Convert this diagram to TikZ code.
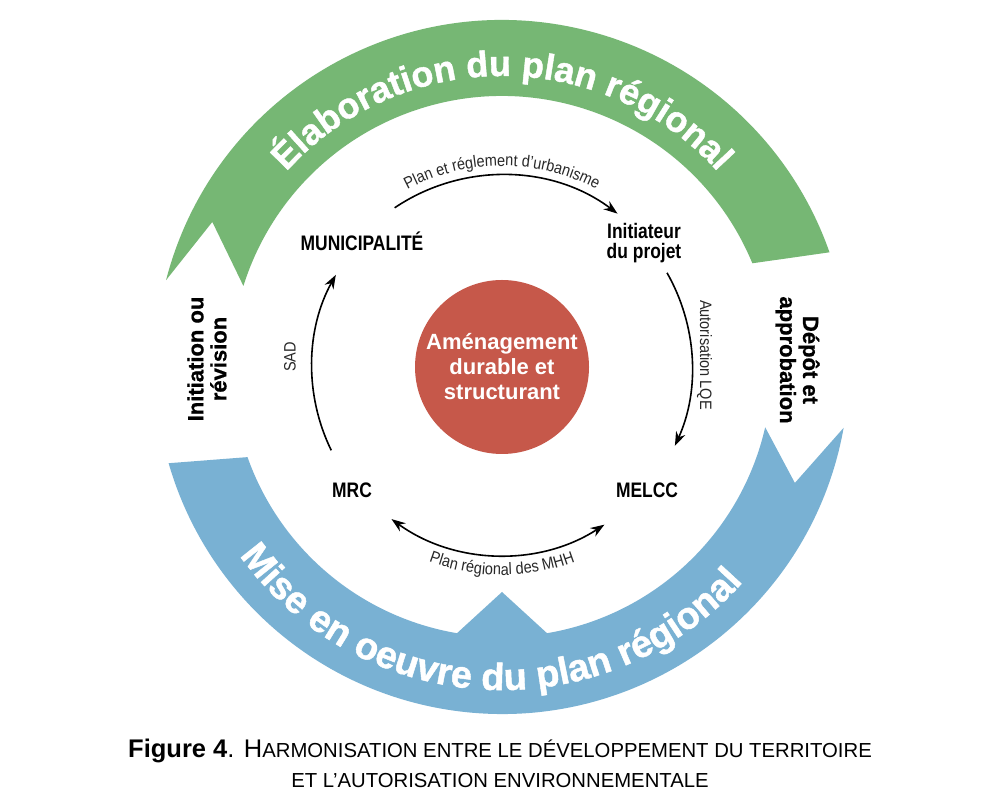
\documentclass[tikz,border=0pt]{standalone}
\usepackage{fontspec}
\setmainfont{Liberation Sans}
\newfontfamily\condfam[FakeStretch=0.83]{Liberation Sans}
\newfontfamily\labfam[FakeStretch=0.88]{Liberation Sans}
\newfontfamily\heavyfam[FakeBold=1.2]{Liberation Sans Bold}
\newfontfamily\sidefam[FakeBold=0.8]{Liberation Sans Bold}
\usetikzlibrary{arrows.meta,decorations.text}
\definecolor{bandgreen}{RGB}{118,183,116}
\definecolor{bandblue}{RGB}{121,177,211}
\definecolor{corered}{RGB}{198,88,74}
\definecolor{labgray}{RGB}{40,40,40}
\newcommand\bandfonttop{\heavyfam\fontsize{36}{40}\selectfont\color{white}}
\newcommand\bandfontbot{\heavyfam\fontsize{38}{40}\selectfont\color{white}}
\newcommand\labfont{\labfam\fontsize{16.5}{18}\selectfont\color{labgray}}
\begin{document}
\begin{tikzpicture}[x=1pt,y=1pt,
  actor/.style={font=\condfam\bfseries\fontsize{21}{20}\selectfont, align=center, inner sep=0pt},
  phase/.style={font=\sidefam\fontsize{22}{23}\selectfont, align=center, inner sep=0pt},
  conn/.style={line width=1.6pt, >={Stealth[length=14pt,width=10pt]}},
  lab/.style={font=\labfont, inner sep=0pt},
  captext/.style={inner sep=0pt, anchor=base}
]
\useasboundingbox (0,0) rectangle (992,808);
\fill[white] (0,0) rectangle (992,808);
\coordinate (C) at (502,441);
\begin{scope}[shift={(C)}]
  % green band
  \fill[bandgreen] (165.5:347) arc[start angle=165.5, end angle=19.3, radius=347]
     -- (22.5:271) arc[start angle=22.5, end angle=162.6, radius=271]
     -- (153.4:324) -- cycle;
  % blue band
  \fill[bandblue] (-10.1:347) arc[start angle=-10.1, end angle=-163.9, radius=347]
     -- (-160.5:270) arc[start angle=-160.5, end angle=-99.6, radius=270]
     -- (-90:225) -- (-80.4:270) arc[start angle=-80.4, end angle=-12.9, radius=270]
     -- (-21.6:315) -- cycle;
  % band texts
  \path[decorate, decoration={text along path, text align=center,
      text={|\bandfonttop|Élaboration du plan régional}}]
      (180:291) arc[start angle=180, end angle=0, radius=291];
  \path[decorate, decoration={text along path, text align=center,
      text={|\bandfontbot|Mise en oeuvre du plan régional}}]
      (194:323) arc[start angle=194, end angle=340, radius=323];
  % connector end points
  \coordinate (ts) at (124:192);
  \coordinate (te) at (53:192);
  \coordinate (rs) at (29.7:190);
  \coordinate (re) at (-24.5:190);
  \coordinate (bs) at (234:188);
  \coordinate (be) at (303:188);
  \coordinate (ls) at (206:190);
  \coordinate (le) at (151:190);
  % curved labels
  \path[decorate, decoration={text along path, text align=center,
      text={|\labfont|Plan et réglement d’urbanisme}}]
      (180:201) arc[start angle=180, end angle=0, radius=201];
  \path[decorate, decoration={text along path, text align=center,
      text={|\labfont|Plan régional des MHH}}]
      (200:208) arc[start angle=200, end angle=340, radius=208];
\end{scope}

% centre
\node[circle, fill=corered, minimum size=174pt, inner sep=0pt, text=white, align=center,
      font=\bfseries\fontsize{22}{25}\selectfont] (core) at (C) {Aménagement\\durable et\\structurant};

% actors
\node[actor] (muni) at (362,567) {MUNICIPALITÉ};
\node[actor] (init) at (644,565) {Initiateur\\du projet};
\node[actor] (mrc) at (352,318) {MRC};
\node[actor] (melcc) at (647,318) {MELCC};

% phases
\node[phase, rotate=90] (initrev) at (207,449) {Initiation ou\\révision};
\node[phase, rotate=-90] (depot) at (797.5,448) {Dépôt et\\approbation};

% straight labels
\node[lab, rotate=90] (sad) at (290,451) {SAD};
\node[lab, rotate=-90] (lqe) at (704.5,453) {Autorisation LQE};

% connectors
\draw[conn,->] (ts) arc[start angle=124, end angle=53, radius=192];
\draw[conn,->] (rs) arc[start angle=29.7, end angle=-24.5, radius=190];
\draw[conn,<->] (bs) arc[start angle=234, end angle=303, radius=188];
\draw[conn,->] (ls) arc[start angle=206, end angle=151, radius=190];

% caption
\node[captext] (cap1) at (500,51) {{\bfseries\fontsize{25.5}{28}\selectfont Figure 4}\fontsize{25.5}{28}\selectfont. H\fontsize{20.3}{24}\selectfont ARMONISATION ENTRE LE DÉVELOPPEMENT DU TERRITOIRE};
\node[captext] (cap2) at (500,21) {\fontsize{20.3}{24}\selectfont ET L’AUTORISATION ENVIRONNEMENTALE};
\end{tikzpicture}
\end{document}
